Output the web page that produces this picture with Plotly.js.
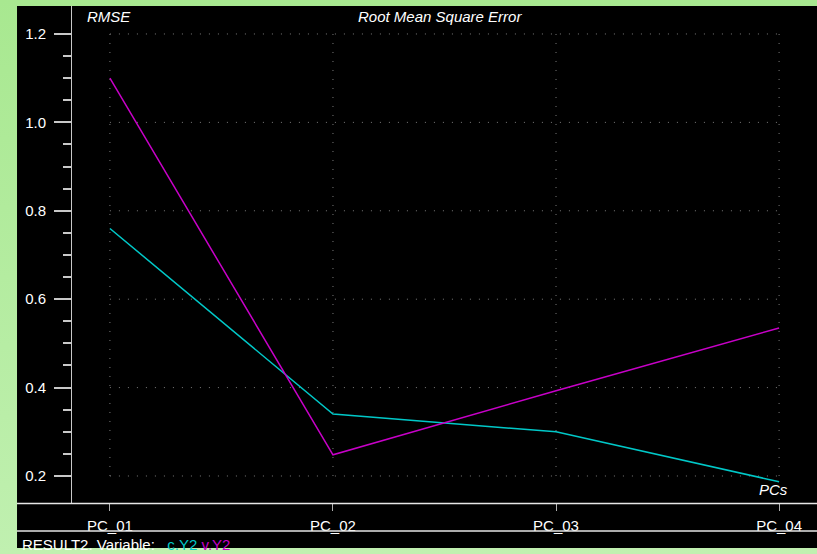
<!DOCTYPE html>
<html>
<head>
<meta charset="utf-8">
<script src="https://cdn.plot.ly/plotly-3.0.1.min.js"></script>
<style>
  html, body { margin: 0; padding: 0; }
  body { width: 817px; height: 554px; background: linear-gradient(to bottom, #a8e890 0%, #c0f0b0 100%); overflow: hidden; }
  #chart { width: 817px; height: 554px; }
</style>
</head>
<body>
<div id="chart"></div>
<script>
// ---- data ----
const categories = ["PC_01", "PC_02", "PC_03", "PC_04"];
const cY2 = [0.76, 0.34, 0.30, 0.187];
const vY2 = [1.10, 0.248, 0.393, 0.535];
const yTickValues = [0.2, 0.4, 0.6, 0.8, 1.0, 1.2];
const minorPerMajor = 3;
const seriesNames = ["c.Y2", "v.Y2"];
const chartTitle = "Root Mean Square Error";
const yTitle = "RMSE";
const xTitle = "PCs";
const footerLabel = "RESULT2. Variable:";

const FONT = "'Liberation Sans Narrow', 'Arial Narrow', 'Liberation Sans', Arial, sans-serif";
const CYAN = "#00c8c8";
const MAGENTA = "#c800c8";

// minor ticks only between the labelled majors
const minorVals = [];
for (let i = 0; i < yTickValues.length - 1; i++) {
  const step = (yTickValues[i + 1] - yTickValues[i]) / (minorPerMajor + 1);
  for (let k = 1; k <= minorPerMajor; k++) minorVals.push(+(yTickValues[i] + k * step).toFixed(4));
}

const traces = [
  { x: categories, y: cY2, type: "scatter", mode: "lines", name: seriesNames[0],
    line: { color: CYAN, width: 1.5 }, hoverinfo: "skip" },
  { x: categories, y: vY2, type: "scatter", mode: "lines", name: seriesNames[1],
    line: { color: MAGENTA, width: 1.5 }, hoverinfo: "skip" }
];

const shapes = [];
shapes.push({ type: "rect", xref: "paper", yref: "paper", x0: -0.0738, x1: 1.0, y0: -0.0905, y1: 1.0,
  fillcolor: "#000000", line: { width: 0 }, layer: "below" });
const lastIdx = categories.length - 1;
const GRID = { color: "#7a7a7a", width: 1, dash: "1px,8px" };
yTickValues.forEach(v => {
  shapes.push({ type: "line", xref: "x", yref: "y", x0: 0, x1: lastIdx, y0: v, y1: v,
    line: GRID, layer: "below" });
});
categories.forEach((c, i) => {
  shapes.push({ type: "line", xref: "x", yref: "y", x0: i, x1: i,
    y0: yTickValues[0], y1: yTickValues[yTickValues.length - 1],
    line: GRID, layer: "below" });
});
shapes.push({ type: "line", xref: "paper", yref: "paper", x0: -0.0738, x1: 1.0, y0: -0.001, y1: -0.001,
  line: { color: "#e6e6e6", width: 1.5 } });
shapes.push({ type: "line", xref: "paper", yref: "paper", x0: -0.0738, x1: 1.0, y0: -0.0563, y1: -0.0563,
  line: { color: "#e6e6e6", width: 1.5 } });

const TF = { family: FONT, size: 15, color: "#ffffff", style: "italic" };
const annotations = [
  { text: yTitle, xref: "paper", yref: "paper", x: 0.0174, y: 0.978, xanchor: "left", yanchor: "middle",
    showarrow: false, font: TF },
  { text: chartTitle, xref: "paper", yref: "paper", x: 0.494, y: 0.978, xanchor: "center", yanchor: "middle",
    showarrow: false, font: TF },
  { text: xTitle, xref: "paper", yref: "paper", x: 0.9638, y: 0.028, xanchor: "right", yanchor: "middle",
    showarrow: false, font: TF },
  { text: footerLabel + "&nbsp;&nbsp; <span style='color:" + CYAN + "'>" + seriesNames[0] + "</span> <span style='color:" + MAGENTA + "'>" + seriesNames[1] + "</span>",
    xref: "paper", yref: "paper", x: -0.0698, y: -0.0825, xanchor: "left", yanchor: "middle",
    showarrow: false, font: { family: FONT, size: 15, color: "#ffffff" } }
];

const layout = {
  width: 817, height: 554,
  margin: { l: 72, r: 0, t: 6, b: 51, pad: 0 },
  paper_bgcolor: "rgba(0,0,0,0)",
  plot_bgcolor: "#000000",
  showlegend: false,
  font: { family: FONT, color: "#ffffff", size: 15 },
  xaxis: {
    type: "category", categoryorder: "array", categoryarray: categories,
    range: [-0.17, lastIdx + 0.17],
    showgrid: false, zeroline: false, showline: false,
    ticks: "outside", ticklen: 7, tickwidth: 1, tickcolor: "#b0b0b0",
    tickfont: { family: FONT, size: 15, color: "#ffffff" },
    ticklabelstandoff: 2,
    fixedrange: true
  },
  yaxis: {
    range: [0.1389, 1.2633],
    tickvals: yTickValues, tickformat: ".1f",
    showgrid: false, zeroline: false,
    showline: true, linecolor: "#c8c8c8", linewidth: 1,
    ticks: "outside", ticklen: 17, tickwidth: 2, tickcolor: "#c8c8c8",
    minor: { tickmode: "array", tickvals: minorVals, ticks: "outside", ticklen: 8, tickwidth: 2, tickcolor: "#c8c8c8", showgrid: false },
    tickfont: { family: FONT, size: 15, color: "#ffffff" },
    ticklabelstandoff: 5,
    fixedrange: true
  },
  shapes: shapes,
  annotations: annotations
};

Plotly.newPlot("chart", traces, layout, { displayModeBar: false, staticPlot: true });
</script>
</body>
</html>
